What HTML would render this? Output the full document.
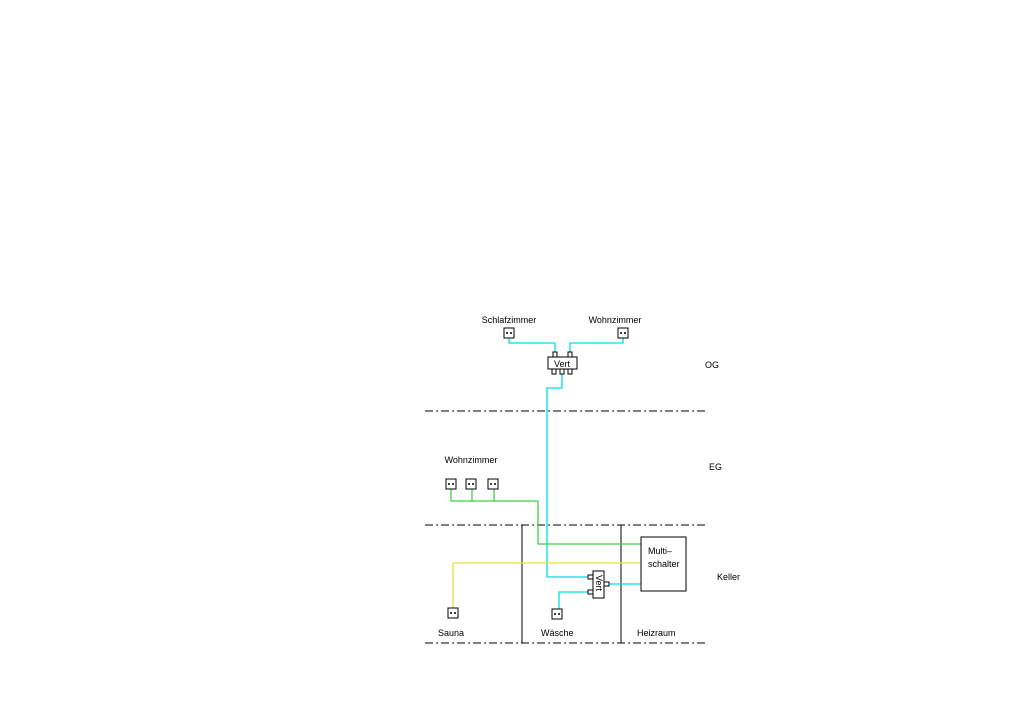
<!DOCTYPE html>
<html><head><meta charset="utf-8"><style>html,body{margin:0;padding:0;background:#fff}svg{display:block}text{font-family:"Liberation Sans",sans-serif;font-size:9px;fill:#000}</style></head><body>
<svg width="1018" height="720" viewBox="0 0 1018 720">
<g stroke="#000" stroke-width="1" fill="none">
<line x1="425" y1="411" x2="708" y2="411" stroke-dasharray="8,3,2,3"/>
<line x1="425" y1="525" x2="708" y2="525" stroke-dasharray="8,3,2,3"/>
<line x1="425" y1="643" x2="708" y2="643" stroke-dasharray="8,3,2,3"/>
<line x1="522" y1="525" x2="522" y2="643"/>
<line x1="621" y1="525" x2="621" y2="643"/>
</g>
<g fill="none" stroke-width="1.3">
<polyline stroke="#00e0e0" points="509,338 509,343 555,343 555,352"/>
<polyline stroke="#00e0e0" points="623,338 623,343 570,343 570,352"/>
<polyline stroke="#00e0e0" points="562,374 562,388 547,388 547,577 588,577"/>
<polyline stroke="#00e0e0" points="609,584 641,584"/>
<polyline stroke="#00e0e0" points="588,592 559,592 559,609"/>
<polyline stroke="#40d040" points="451,489 451,501 538,501 538,544 641,544"/>
<polyline stroke="#40d040" points="472,489 472,501"/>
<polyline stroke="#40d040" points="494,489 494,501"/>
<polyline stroke="#e8e040" points="453,610 453,563 641,563"/>
</g>
<g stroke="#000" stroke-width="1" fill="#fff">
<rect x="504" y="328" width="10" height="10"/><rect x="618" y="328" width="10" height="10"/>
<rect x="446" y="479" width="10" height="10"/><rect x="466" y="479" width="10" height="10"/><rect x="488" y="479" width="10" height="10"/>
<rect x="448" y="608" width="10" height="10"/><rect x="552" y="609" width="10" height="10"/>
<rect x="553" y="352" width="4" height="5"/><rect x="568" y="352" width="4" height="5"/>
<rect x="552" y="369" width="4" height="5"/><rect x="560" y="369" width="4" height="5"/><rect x="568" y="369" width="4" height="5"/>
<rect x="548" y="357" width="29" height="12"/>
<rect x="588" y="575" width="5" height="4"/><rect x="588" y="590" width="5" height="4"/><rect x="604" y="582" width="5" height="4"/>
<rect x="593" y="571" width="11" height="27"/>
<rect x="641" y="537" width="45" height="54" fill="none"/>
</g>
<g fill="#000">
<circle cx="507" cy="333" r="1"/><circle cx="511" cy="333" r="1"/>
<circle cx="621" cy="333" r="1"/><circle cx="625" cy="333" r="1"/>
<circle cx="449" cy="484" r="1"/><circle cx="453" cy="484" r="1"/>
<circle cx="469" cy="484" r="1"/><circle cx="473" cy="484" r="1"/>
<circle cx="491" cy="484" r="1"/><circle cx="495" cy="484" r="1"/>
<circle cx="451" cy="613" r="1"/><circle cx="455" cy="613" r="1"/>
<circle cx="555" cy="614" r="1"/><circle cx="559" cy="614" r="1"/>
</g>
<text x="509" y="323" text-anchor="middle">Schlafzimmer</text>
<text x="615" y="323" text-anchor="middle">Wohnzimmer</text>
<text x="562" y="367" text-anchor="middle">Vert</text>
<text x="705" y="368">OG</text>
<text x="471" y="463" text-anchor="middle">Wohnzimmer</text>
<text x="709" y="470">EG</text>
<text x="717" y="580">Keller</text>
<text x="648" y="554">Multi–</text>
<text x="648" y="567">schalter</text>
<text transform="translate(596,575) rotate(90)">Vert</text>
<text x="438" y="636">Sauna</text>
<text x="541" y="636">Wäsche</text>
<text x="637" y="636">Heizraum</text>
</svg>
</body></html>
